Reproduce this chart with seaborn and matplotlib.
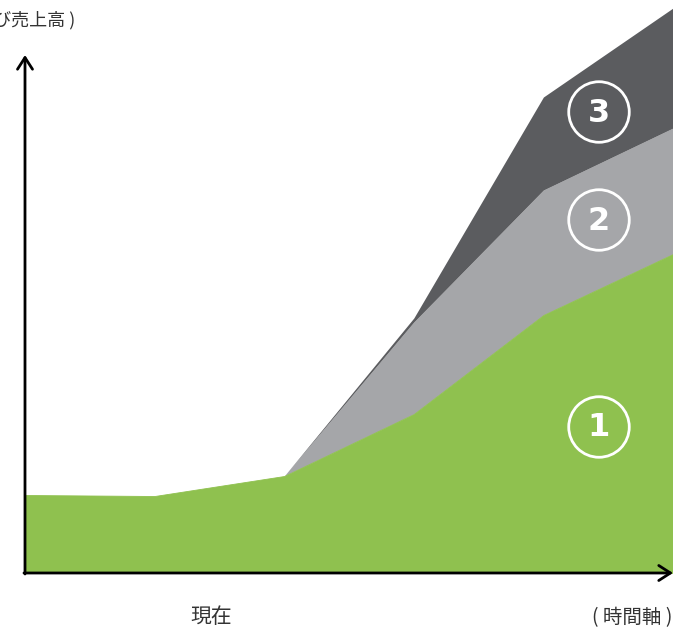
import matplotlib
matplotlib.use("Agg")
import matplotlib.pyplot as plt
import seaborn as sns
import numpy as np

sns.set_theme(style="white")
plt.rcParams["font.family"] = ["Noto Sans CJK JP", "DejaVu Sans"]

# Time steps along the horizontal axis
periods = [0, 1, 2, 3, 4, 5]
# Stacked layers (arbitrary units)
layer1 = [78, 77, 97, 159, 258, 319]
layer2 = [0, 0, 0, 92, 125, 126]
layer3 = [0, 0, 0, 4, 93, 120]
layer_labels = ["1", "2", "3"]
colors = ["#8fc14f", "#a5a6a9", "#5b5c5f"]

W, H = 673, 631
fig = plt.figure(figsize=(W / 100, H / 100), dpi=100)
fig.patch.set_facecolor("white")
ax = fig.add_axes([25 / W, (H - 573) / H, (W - 25) / W, 573 / H])
ax.set_xlim(0, 5)
ax.set_ylim(0, 573)
ax.axis("off")

polys = ax.stackplot(periods, layer1, layer2, layer3, colors=colors,
                     linewidth=0)
# keep the base layer crisp and above the thin upper edges
polys[0].set_edgecolor(colors[0])
polys[0].set_linewidth(0.6)
polys[0].set_zorder(3)

# Axis arrows
ax.annotate("", xy=(0, 518), xytext=(0, -1),
            arrowprops=dict(arrowstyle="->,head_length=0.7,head_width=0.45",
                            lw=2, color="black", shrinkA=0, shrinkB=0),
            annotation_clip=False, zorder=7)
ax.annotate("", xy=(5, 0), xytext=(-0.008, 0),
            arrowprops=dict(arrowstyle="->,head_length=0.7,head_width=0.45",
                            lw=2, color="black", shrinkA=0, shrinkB=0),
            annotation_clip=False, zorder=7)

# Circled layer numbers
label_y = [573 - 427, 573 - 220, 573 - 112]
cx_data = (599 - 25) / ((W - 25) / 5)
for lab, ly in zip(layer_labels, label_y):
    ax.scatter([cx_data], [ly], s=1900, facecolors="none", edgecolors="white",
               linewidths=2, zorder=5)
    ax.text(cx_data, ly - 1, lab, color="white", fontsize=23,
            fontweight="bold", ha="center", va="center",
            family=["DejaVu Sans"], zorder=6)

txt = "#333333"
fig.text(75 / W, 1 - 20 / H, "( 利益及び売上高 )", ha="right", va="center",
         fontsize=13, color=txt)
fig.text(211 / W, 1 - 617 / H, "現在", ha="center", va="center",
         fontsize=15, color=txt)
fig.text(672 / W, 1 - 618 / H, "( 時間軸 )", ha="right", va="center",
         fontsize=14, color=txt)

fig.savefig("out.png", dpi=100, facecolor="white")
